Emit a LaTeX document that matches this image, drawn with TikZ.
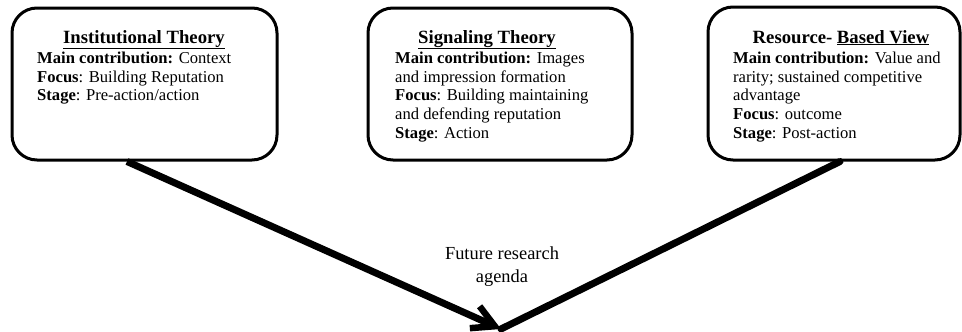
\documentclass[tikz,border=0pt]{standalone}
\usepackage{fontspec}
\setmainfont{Liberation Serif}
\usetikzlibrary{arrows.meta,calc}
\tikzset{
  theorybox/.style={draw=black, line width=3pt, rounded corners=25pt, fill=white, inner sep=0pt},
  titletext/.style={anchor=base, inner sep=0pt, font=\fontsize{18.7}{22}\selectfont\bfseries},
  bodytext/.style={anchor=base west, inner sep=0pt, font=\fontsize{16.6}{19}\selectfont},
  centertext/.style={anchor=base, inner sep=0pt, font=\fontsize{18.4}{22}\selectfont},
  connector/.style={line width=7pt, line cap=round},
}
\begin{document}
\begin{tikzpicture}[x=1pt,y=-1pt]
\useasboundingbox (0,0) rectangle (962,332);
% boxes
\node[theorybox, minimum width=265pt, minimum height=152pt] (b1) at (144.5,84) {};
\node[theorybox, minimum width=264pt, minimum height=152pt] (b2) at (500,84) {};
\node[theorybox, minimum width=252pt, minimum height=153pt] (b3) at (834,83.5) {};
% box 1
\node[titletext] (t1) at (144,43) {\underline{Institutional Theory}};
\node[bodytext] (l11) at (37,63) {\textbf{Main contribution:} Context};
\node[bodytext] (l12) at (37,82) {\textbf{Focus}: Building Reputation};
\node[bodytext] (l13) at (37,100.5) {\textbf{Stage}: Pre-action/action};
% box 2
\node[titletext] (t2) at (487,43) {\underline{Signaling Theory}};
\node[bodytext] (l21) at (395,63) {\textbf{Main contribution:} Images};
\node[bodytext] (l22) at (395,82) {and impression formation};
\node[bodytext] (l23) at (395,100.5) {\textbf{Focus}: Building maintaining};
\node[bodytext] (l24) at (395,119.5) {and defending reputation};
\node[bodytext] (l25) at (395,138) {\textbf{Stage}: Action};
% box 3
\node[titletext] (t3) at (841,43) {Resource- \underline{Based View}};
\node[bodytext] (l31) at (733,63) {\textbf{Main contribution:} Value and};
\node[bodytext] (l32) at (733,82) {rarity; sustained competitive};
\node[bodytext] (l33) at (733,100.5) {advantage};
\node[bodytext] (l34) at (733,119.5) {\textbf{Focus}: outcome};
\node[bodytext] (l35) at (733,138) {\textbf{Stage}: Post-action};
% center text
\node[centertext] (c1) at (502,259) {Future research};
\node[centertext] (c2) at (502,282) {agenda};
% connectors
\coordinate (tip) at (501,329);
\coordinate (s1) at ($(b1.south)+(-17.5,0)$);
\coordinate (s3) at ($(b3.south)+(6,0)$);
\draw[connector] (s3) -- (tip);
\draw[line width=7pt, -{Straight Barb[length=22pt,width=24pt,line width=6.5pt]}] (s1) -- (tip);
\end{tikzpicture}
\end{document}
